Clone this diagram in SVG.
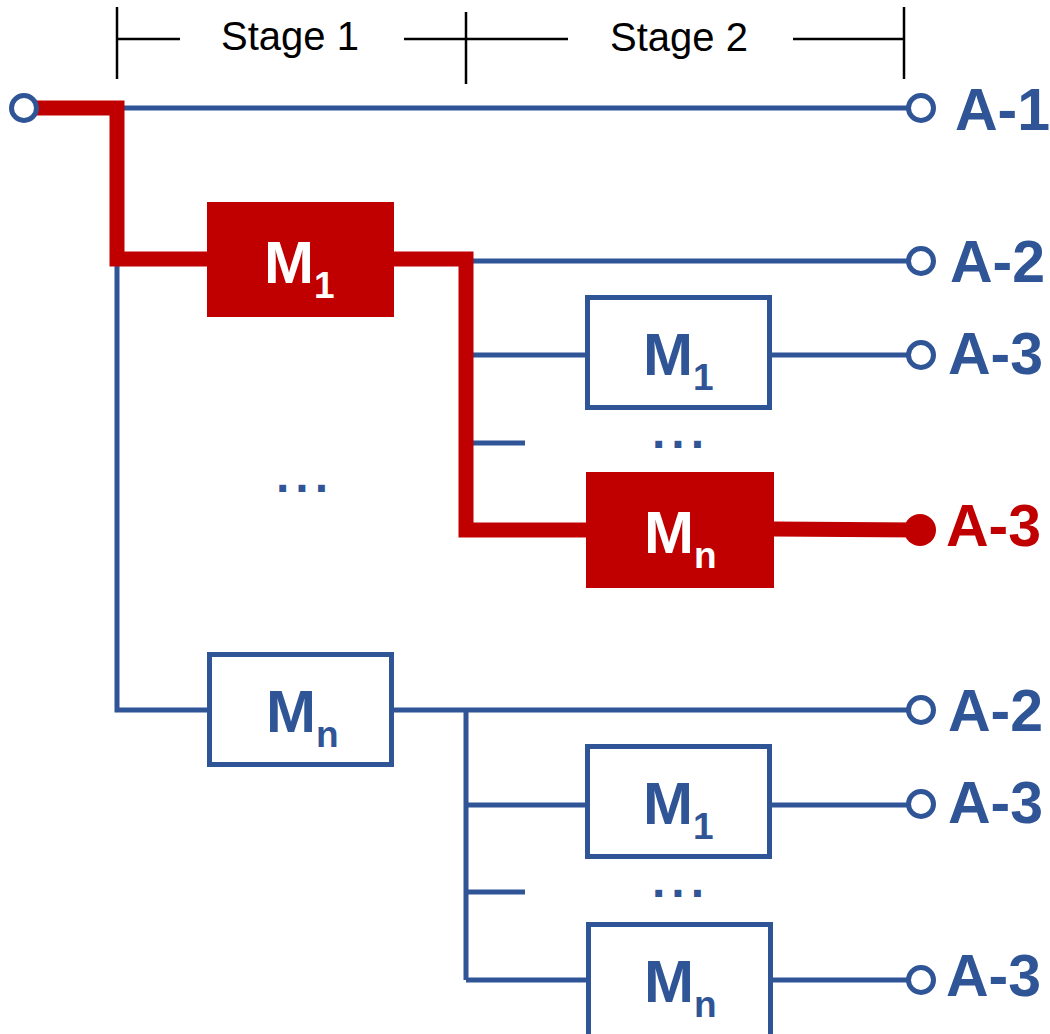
<svg xmlns="http://www.w3.org/2000/svg" width="1050" height="1034" viewBox="0 0 1050 1034">
<style>
.bl{stroke:#2F5597;stroke-width:5;fill:none}
.rd{stroke:#C00000;stroke-width:15;fill:none;stroke-linejoin:miter}
.bk{stroke:#000;stroke-width:2.5;fill:none}
.pin{fill:#fff;stroke:#2F5597;stroke-width:5}
.rbox{fill:#C00000}
.bbox{fill:#fff;stroke:#2F5597;stroke-width:5}
.st{font-family:"Liberation Sans",Arial,sans-serif;font-size:40px;fill:#000}
.m{font-family:"Liberation Sans",Arial,sans-serif;font-weight:bold;font-size:60px}
.sub{font-size:37px}
.lab{font-family:"Liberation Sans",Arial,sans-serif;font-weight:bold;font-size:59px;fill:#2F5597}
.dots{font-family:"Liberation Sans",Arial,sans-serif;font-weight:bold;font-size:48px;fill:#2F5597;letter-spacing:6px}
</style>
<g id="stages">
<line class="bk" x1="117" y1="7" x2="117" y2="79"/>
<line class="bk" x1="466" y1="12" x2="466" y2="84"/>
<line class="bk" x1="904" y1="7" x2="904" y2="79"/>
<line class="bk" x1="117" y1="39" x2="180" y2="39"/>
<line class="bk" x1="404" y1="39" x2="568" y2="39"/>
<line class="bk" x1="793" y1="39" x2="904" y2="39"/>
<text class="st" x="221" y="50">Stage 1</text>
<text class="st" x="610" y="51">Stage 2</text>
</g>
<g id="connectors">
<line class="bl" x1="117" y1="108" x2="909" y2="108"/>
<line class="bl" x1="466" y1="261" x2="909" y2="261"/>
<polyline class="bl" points="117,259 117,710 207,710"/>
<line class="bl" x1="394" y1="710" x2="909" y2="710"/>
<line class="bl" x1="466" y1="710" x2="466" y2="980"/>
<line class="bl" x1="466" y1="355" x2="586" y2="355"/>
<line class="bl" x1="772" y1="355" x2="909" y2="355"/>
<line class="bl" x1="466" y1="443" x2="525" y2="443"/>
<line class="bl" x1="466" y1="805" x2="586" y2="805"/>
<line class="bl" x1="772" y1="805" x2="909" y2="805"/>
<line class="bl" x1="466" y1="892" x2="525" y2="892"/>
<line class="bl" x1="466" y1="980" x2="587" y2="980"/>
<line class="bl" x1="773" y1="980" x2="909" y2="980"/>
<polyline class="rd" points="36,108 117,108 117,259 208,259"/>
<polyline class="rd" points="393,259 466,259 466,530 587,530"/>
<line class="rd" x1="773" y1="529" x2="918" y2="530"/>
</g>
<g id="pins">
<circle class="pin" cx="24" cy="108" r="12.5"/>
<circle class="pin" cx="921" cy="108" r="12.5"/>
<circle class="pin" cx="921" cy="261" r="12.5"/>
<circle class="pin" cx="921" cy="355" r="12.5"/>
<circle cx="920" cy="530" r="16" fill="#C00000"/>
<circle class="pin" cx="921" cy="710" r="12.5"/>
<circle class="pin" cx="921" cy="804" r="12.5"/>
<circle class="pin" cx="921" cy="980" r="12.5"/>
</g>
<g id="s1-m1">
<rect class="rbox" x="207" y="202" width="187" height="115"/>
<text class="m" x="264" y="283" fill="#fff">M<tspan class="sub" dy="15">1</tspan></text>
</g>
<g id="s1-mn">
<rect class="bbox" x="209.5" y="654.5" width="182" height="110"/>
<text class="m" x="266" y="732" fill="#2F5597">M<tspan class="sub" dy="15">n</tspan></text>
</g>
<g id="s1-dots"><text class="dots" x="276" y="492">...</text></g>
<g id="s2a-m1">
<rect class="bbox" x="587.5" y="297.5" width="182" height="110"/>
<text class="m" x="643" y="375" fill="#2F5597">M<tspan class="sub" dy="15">1</tspan></text>
</g>
<g id="s2a-dots"><text class="dots" x="652" y="448">...</text></g>
<g id="s2a-mn">
<rect class="rbox" x="586" y="472" width="188" height="116"/>
<text class="m" x="644" y="553" fill="#fff">M<tspan class="sub" dy="15">n</tspan></text>
</g>
<g id="s2b-m1">
<rect class="bbox" x="587.5" y="746.5" width="182" height="110"/>
<text class="m" x="643" y="824" fill="#2F5597">M<tspan class="sub" dy="15">1</tspan></text>
</g>
<g id="s2b-dots"><text class="dots" x="652" y="897">...</text></g>
<g id="s2b-mn">
<rect class="bbox" x="588.5" y="924.5" width="182" height="112"/>
<text class="m" x="644" y="1002" fill="#2F5597">M<tspan class="sub" dy="15">n</tspan></text>
</g>
<g id="labels">
<text class="lab" x="955" y="130">A-1</text>
<text class="lab" x="950" y="282">A-2</text>
<text class="lab" x="948" y="374">A-3</text>
<text class="lab" x="946" y="546" style="fill:#C00000">A-3</text>
<text class="lab" x="948" y="731">A-2</text>
<text class="lab" x="948" y="823">A-3</text>
<text class="lab" x="946" y="996">A-3</text>
</g>
</svg>
